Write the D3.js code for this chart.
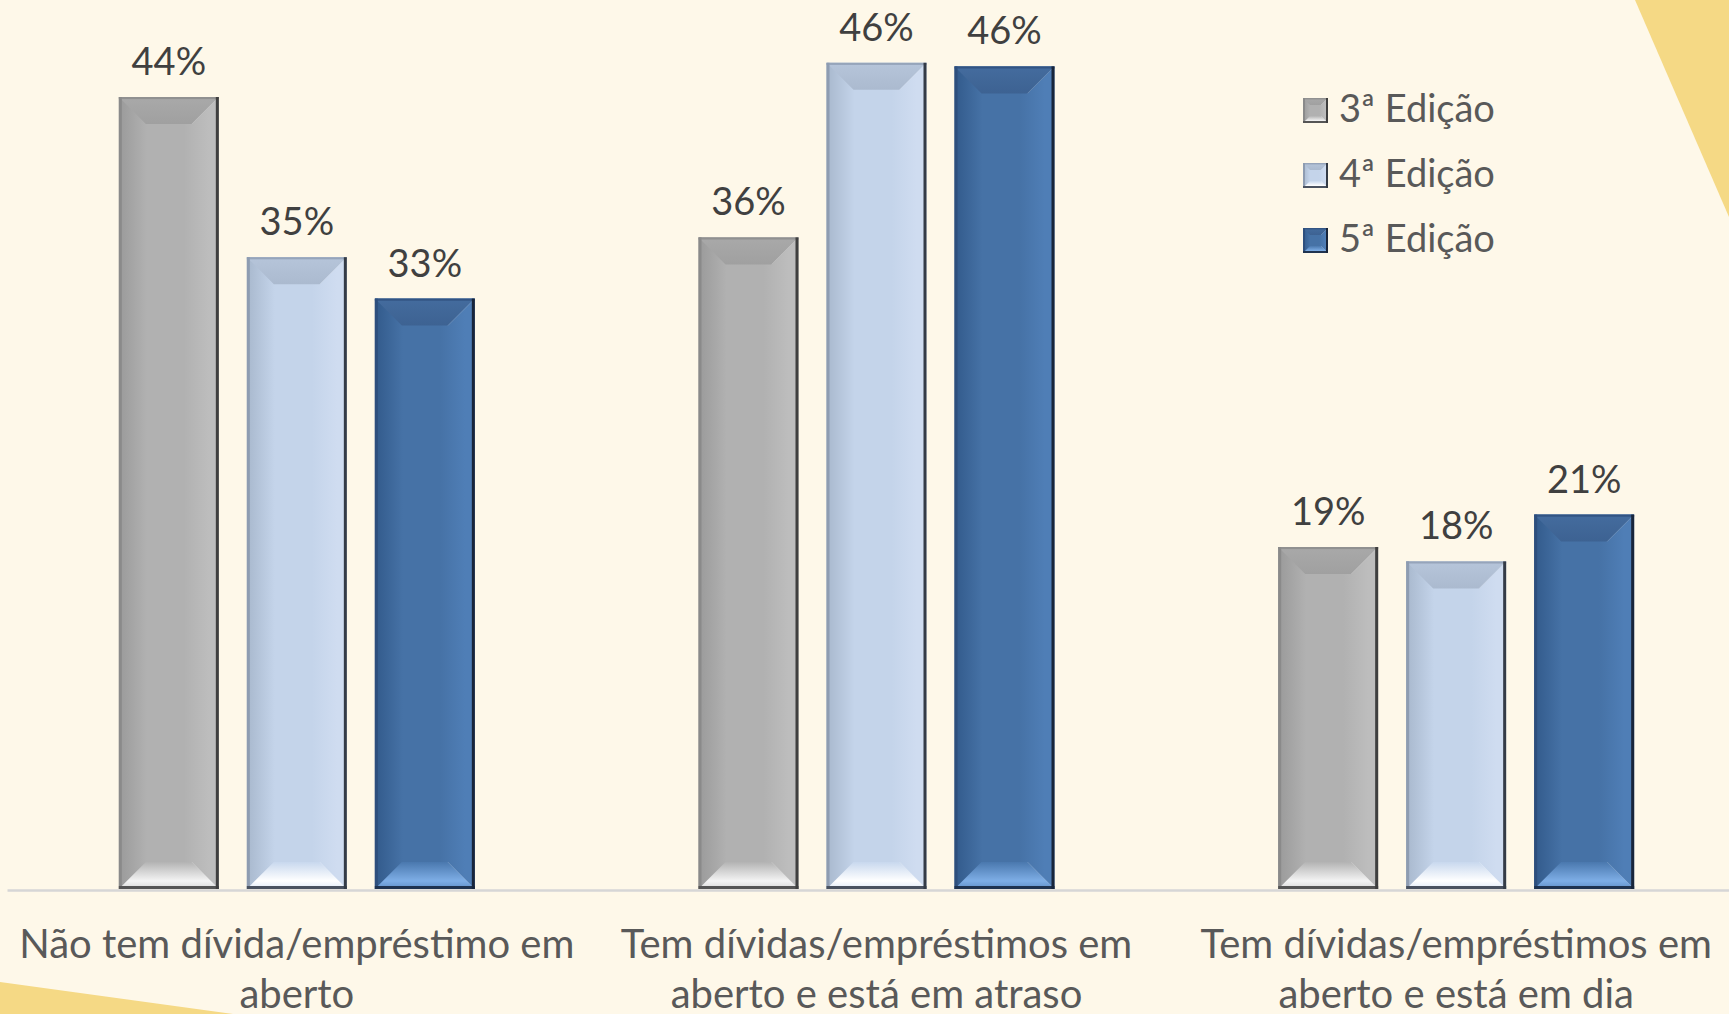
<!DOCTYPE html>
<html>
<head>
<meta charset="utf-8">
<script src="https://cdn.jsdelivr.net/npm/d3@7"></script>
<style>
  html, body { margin: 0; padding: 0; background: #fef8e9; overflow: hidden; }
  svg { display: block; }
  text { font-family: Lato, "Open Sans", "Noto Sans", sans-serif; }
</style>
</head>
<body>
<svg id="chart" width="1729" height="1014"></svg>
<script>
// ---- data ----
const categories = [
  ["Não tem dívida/empréstimo em", "aberto"],
  ["Tem dívidas/empréstimos em", "aberto e está em atraso"],
  ["Tem dívidas/empréstimos em", "aberto e está em dia"]
];
const seriesNames = ["3ª Edição", "4ª Edição", "5ª Edição"];
const ed3 = [44.0, 36.2, 19.0];
const ed4 = [35.1, 45.9, 18.2];
const ed5 = [32.8, 45.7, 20.8];
const seriesValues = [ed3, ed4, ed5];

// ---- styles (palettes per series) ----
const palettes = [
  { left: "#9a9a9a", mid: "#b1b1b1", right: "#bdbdbd", edgeL: "#8a8a8a", edgeR: "#3f3f3f",
    topA: "#a9a9a9", topB: "#a0a0a0", botA: "#b3b3b3", botB: "#f4f4f4", botC: "#d8d8d8", edgeB: "#555555" },
  { left: "#a8b8cd", mid: "#c4d4ea", right: "#cfdcf0", edgeL: "#8e9cb1", edgeR: "#343b46",
    topA: "#b6c5da", topB: "#abbacf", botA: "#c8d8ee", botB: "#ffffff", botC: "#dfe9f7", edgeB: "#4a5260" },
  { left: "#325a8b", mid: "#4672a6", right: "#4f7eb6", edgeL: "#2e4f7d", edgeR: "#18253a",
    topA: "#446c9e", topB: "#3d6292", botA: "#4a78ae", botB: "#7eaee6", botC: "#5f8fc8", edgeB: "#1f3350" }
];

const W = 1729, H = 1014;
const svg = d3.select("#chart");
const defs = svg.append("defs");

// background
svg.append("rect").attr("width", W).attr("height", H).attr("fill", "#fef8e9");
svg.append("path").attr("d", "M1635,0 L1729,0 L1729,217 Z").attr("fill", "#f5d985");
svg.append("path").attr("d", "M0,982 L233,1014 L0,1014 Z").attr("fill", "#f5d985");

// gradients
palettes.forEach((p, i) => {
  const gh = defs.append("linearGradient").attr("id", "side" + i).attr("x1", 0).attr("x2", 1).attr("y1", 0).attr("y2", 0);
  [[0, p.left], [0.28, p.mid], [0.65, p.mid], [0.9, p.right], [1, p.right]].forEach(s =>
    gh.append("stop").attr("offset", s[0]).attr("stop-color", s[1]));
  const gt = defs.append("linearGradient").attr("id", "top" + i).attr("x1", 0).attr("x2", 0).attr("y1", 0).attr("y2", 1);
  [[0, p.topA], [1, p.topB]].forEach(s => gt.append("stop").attr("offset", s[0]).attr("stop-color", s[1]));
  const gb = defs.append("linearGradient").attr("id", "bot" + i).attr("x1", 0).attr("x2", 0).attr("y1", 0).attr("y2", 1);
  [[0, p.botA], [0.7, p.botB], [1, p.botC]].forEach(s => gb.append("stop").attr("offset", s[0]).attr("stop-color", s[1]));
});

// scales
const baseY = 889;
const y = d3.scaleLinear().domain([0, 50]).range([baseY, baseY - 900]);
const x0 = d3.scaleBand().domain(d3.range(categories.length)).range([7, 1746]).paddingInner(0).paddingOuter(0);
const x1 = d3.scaleBand().domain(d3.range(seriesNames.length)).range([0, 384]).paddingInner(28 / 128).paddingOuter(14 / 128);
const groupOffset = (x0.bandwidth() - 384) / 2;

function bevel(g, x, yTop, w, h, i, b, edge) {
  const p = palettes[i];
  b = Math.min(b, h / 2, w / 2);
  g.append("rect").attr("x", x).attr("y", yTop).attr("width", w).attr("height", h).attr("fill", `url(#side${i})`);
  // top bevel
  g.append("path").attr("d", `M${x},${yTop} L${x + w},${yTop} L${x + w - b},${yTop + b} L${x + b},${yTop + b} Z`)
    .attr("fill", `url(#top${i})`);
  // bottom bevel
  g.append("path").attr("d", `M${x},${yTop + h} L${x + w},${yTop + h} L${x + w - b},${yTop + h - b} L${x + b},${yTop + h - b} Z`)
    .attr("fill", `url(#bot${i})`);
  // faint diagonal highlight lines
  g.append("path").attr("d", `M${x + w},${yTop} L${x + w - b},${yTop + b} M${x + w},${yTop + h} L${x + w - b},${yTop + h - b}`)
    .attr("stroke", "#ffffff").attr("stroke-opacity", 0.18).attr("stroke-width", 1).attr("fill", "none");
  // edges
  g.append("rect").attr("x", x).attr("y", yTop).attr("width", edge).attr("height", h).attr("fill", p.edgeL);
  g.append("rect").attr("x", x).attr("y", yTop).attr("width", w).attr("height", Math.max(1, edge * 0.7)).attr("fill", p.edgeL).attr("opacity", 0.8);
  g.append("rect").attr("x", x).attr("y", yTop + h - edge).attr("width", w).attr("height", edge).attr("fill", p.edgeB);
  g.append("rect").attr("x", x + w - edge).attr("y", yTop).attr("width", edge).attr("height", h).attr("fill", p.edgeR);
}

// axis
const axisG = svg.append("g").attr("transform", `translate(0,${baseY + 1})`)
  .call(d3.axisBottom(x0).tickSize(0).tickPadding(0).tickFormat(() => ""));
axisG.select(".domain").attr("stroke", "#d6d6d6").attr("stroke-width", 2.5);
axisG.selectAll(".tick text").remove();
axisG.selectAll(".tick").each(function(d) {
  const t = d3.select(this).append("text")
    .attr("text-anchor", "middle").attr("fill", "#595959")
    .style("font-size", "40px");
  categories[d].forEach((line, k) => {
    t.append("tspan").attr("x", 0).attr("y", 68 + k * 50).text(line);
  });
});

// bars
const fmt = v => Math.round(v) + "%";
const groups = svg.append("g").selectAll("g").data(categories.map((c, ci) => ci)).join("g")
  .attr("transform", ci => `translate(${x0(ci) + groupOffset},0)`);
groups.each(function(ci) {
  const g = d3.select(this);
  seriesValues.forEach((vals, si) => {
    const v = vals[ci];
    const bx = x1(si), bw = x1.bandwidth();
    const top = y(v), h = baseY - top;
    bevel(g.append("g"), bx, top, bw, h, si, 27, 3);
    g.append("text").attr("x", bx + bw / 2).attr("y", top - 22)
      .attr("text-anchor", "middle").attr("fill", "#404040")
      .style("font-size", "38px").text(fmt(v));
  });
});

// legend
const legend = svg.append("g").attr("transform", "translate(1303,98)");
seriesNames.forEach((name, i) => {
  const lg = legend.append("g").attr("transform", `translate(0,${i * 65})`);
  bevel(lg.append("g"), 0, 0, 25, 25, i, 7, 2);
  lg.append("text").attr("x", 36).attr("y", 24).attr("fill", "#595959")
    .style("font-size", "38px").text(name);
});
</script>
</body>
</html>
